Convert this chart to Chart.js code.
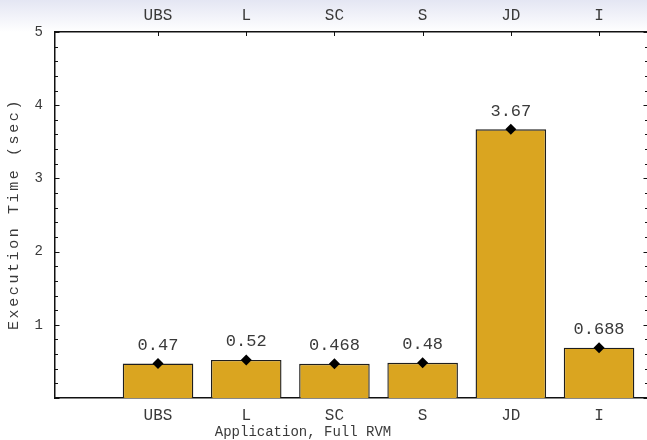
<!DOCTYPE html>
<html>
<head>
<meta charset="utf-8">
<script src="https://cdn.jsdelivr.net/npm/chart.js@4/dist/chart.umd.min.js"></script>
<style>
  html, body { margin: 0; padding: 0; background: #ffffff; }
  #wrap {
    position: relative; width: 647px; height: 440px; overflow: hidden;
    background: linear-gradient(to bottom, #e4e6f3 0px, #f3f4fa 18px, #ffffff 32px);
  }
  canvas { display: block; }
</style>
</head>
<body>
<div id="wrap"><canvas id="c" width="660" height="440"></canvas></div>
<script>
// Applications measured, full RVM run
const categories = ['UBS', 'L', 'SC', 'S', 'JD', 'I'];
// Execution time in seconds
const execTimes = [0.47, 0.52, 0.468, 0.48, 3.67, 0.688];
// Y axis: major ticks every 1 s, minor every 0.2 s
const yMajorTicks = [0, 1, 2, 3, 4, 5];
const yMinorStep = 0.2;

const xTitle = 'Application, Full RVM';
const yTitle = 'Execution Time (sec)';

const MONO = '"Liberation Mono", "DejaVu Sans Mono", monospace';
const TEXT = '#3a3a3a';
const AXIS = '#111111';

const points = categories.map((c, i) => ({ x: i, y: execTimes[i] }));

const catTicks = scale => { scale.ticks = categories.map((c, i) => ({ value: i })); };
const catLabel = v => categories[v] !== undefined ? categories[v] : '';

// Inward tick marks, value labels and axis titles
const decor = {
  id: 'decor',
  afterDatasetsDraw(chart) {
    const { ctx, chartArea: a, scales } = chart;
    const x = scales.x, y = scales.y;
    ctx.save();
    ctx.strokeStyle = AXIS;
    ctx.lineWidth = 1;
    ctx.beginPath();
    const nMinor = Math.round((yMajorTicks[yMajorTicks.length - 1] - yMajorTicks[0]) / yMinorStep);
    for (let k = 0; k <= nMinor; k++) {
      const val = yMajorTicks[0] + k * yMinorStep;
      const major = k % 5 === 0;
      const len = major ? 4.5 : 3;
      const py = Math.round(y.getPixelForValue(val)) + 0.5;
      ctx.moveTo(a.left, py); ctx.lineTo(a.left + len, py);
      ctx.moveTo(a.right, py); ctx.lineTo(a.right - len, py);
    }
    categories.forEach((c, i) => {
      const px = Math.round(x.getPixelForValue(i)) + 0.5;
      ctx.moveTo(px, a.top); ctx.lineTo(px, a.top + 4);
    });
    ctx.stroke();

    ctx.lineWidth = 1.5;
    ctx.beginPath();
    ctx.moveTo(a.right, a.top); ctx.lineTo(a.right, a.bottom);
    ctx.stroke();

    // value labels above each bar
    ctx.fillStyle = TEXT;
    ctx.font = '17px ' + MONO;
    ctx.textAlign = 'center';
    ctx.textBaseline = 'middle';
    execTimes.forEach((v, i) => {
      ctx.fillText(String(v), x.getPixelForValue(i), y.getPixelForValue(v) - 18);
    });

    // axis titles
    ctx.font = '14px ' + MONO;
    ctx.fillText(xTitle, 303, 432);

    ctx.translate(14, (a.top + a.bottom) / 2);
    ctx.rotate(-Math.PI / 2);
    ctx.font = '15px ' + MONO;
    ctx.letterSpacing = '2.6px';
    ctx.fillText(yTitle, 1, 0);
    ctx.restore();
  }
};

new Chart(document.getElementById('c'), {
  type: 'bar',
  data: {
    datasets: [
      {
        type: 'line',
        data: points,
        showLine: false,
        pointStyle: 'rectRot',
        pointRadius: 5.5,
        pointBackgroundColor: '#000000',
        pointBorderColor: '#000000',
        pointBorderWidth: 0,
        order: 0
      },
      {
        type: 'bar',
        data: points,
        backgroundColor: '#DAA520',
        borderColor: '#1e1e1e',
        borderWidth: 1.4,
        categoryPercentage: 0.8,
        barPercentage: 1,
        order: 1
      }
    ]
  },
  options: {
    responsive: false,
    animation: false,
    devicePixelRatio: 1,
    layout: { padding: { left: 0, top: 0, right: 12, bottom: 0 } },
    plugins: { legend: { display: false }, tooltip: { enabled: false } },
    scales: {
      x: {
        type: 'linear', position: 'bottom', offset: false,
        min: -1.168, max: 5.555,
        afterBuildTicks: catTicks,
        afterFit: s => { s.height = 42; },
        grid: { display: false, drawTicks: false, offset: false },
        border: { display: true, color: AXIS, width: 1.5 },
        ticks: { callback: catLabel, padding: 8, color: TEXT, font: { family: MONO, size: 16 }, maxRotation: 0, autoSkip: false }
      },
      x2: {
        type: 'linear', position: 'top', offset: false,
        min: -1.168, max: 5.555,
        afterBuildTicks: catTicks,
        afterFit: s => { s.height = 32; },
        grid: { display: false, drawTicks: false, offset: false },
        border: { display: true, color: AXIS, width: 1.5 },
        ticks: { callback: catLabel, padding: 7, color: TEXT, font: { family: MONO, size: 16 }, maxRotation: 0, autoSkip: false }
      },
      y: {
        type: 'linear', position: 'left',
        min: 0, max: 5,
        afterBuildTicks: s => { s.ticks = yMajorTicks.map(v => ({ value: v })); },
        afterFit: s => { s.width = 55; },
        grid: { display: false, drawTicks: false },
        border: { display: true, color: AXIS, width: 1.5 },
        ticks: { callback: v => (v === 0 ? '' : String(v)), padding: 12, color: TEXT, font: { family: MONO, size: 14 } }
      }
    }
  },
  plugins: [decor]
});
</script>
</body>
</html>
